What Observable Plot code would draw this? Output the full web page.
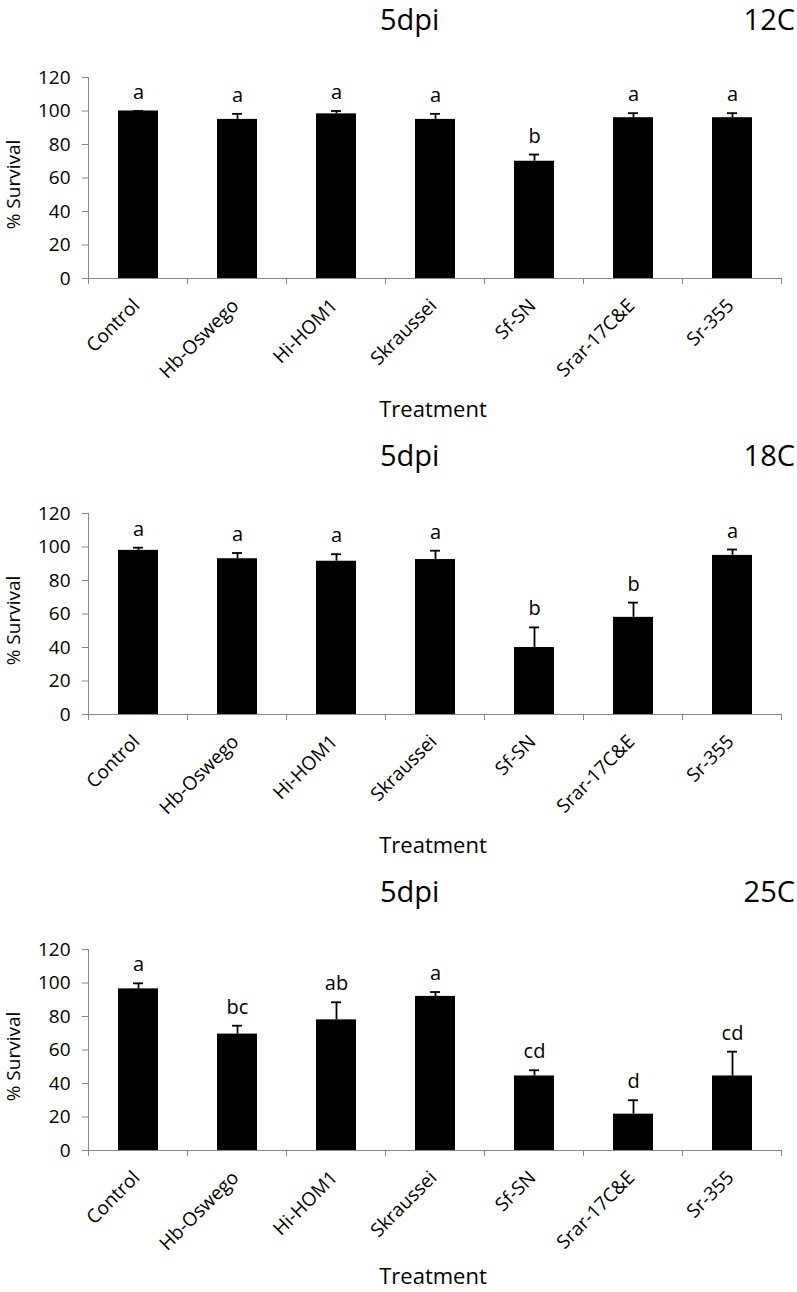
<!DOCTYPE html>
<html><head><meta charset="utf-8">
<script src="https://cdn.jsdelivr.net/npm/d3@7"></script>
<script src="https://cdn.jsdelivr.net/npm/@observablehq/plot@0.6"></script>
<style>
html,body{margin:0;padding:0;background:#fff;}
#wrap{position:relative;width:797px;height:1292px;overflow:hidden;font-family:"Open Sans",sans-serif;color:#000;}
.panel{position:absolute;left:0;width:797px;height:436px;}
.panel svg{position:absolute;left:0;top:0;}
.panel svg text{fill:#000;}
.t1{position:absolute;font-size:29px;line-height:29px;white-space:nowrap;top:4px;}
.xl{position:absolute;left:86px;width:694px;text-align:center;font-size:22px;line-height:22px;top:397px;}
.yl{position:absolute;width:200px;height:19px;text-align:center;font-size:19px;line-height:19px;top:175px;transform:rotate(-90deg);transform-origin:center;white-space:nowrap;}
</style>
</head><body>
<div id="wrap"></div>
<script>
const categories = ["Control","Hb-Oswego","Hi-HOM1","Skraussei","Sf-SN","Srar-17C&E","Sr-355"];
const dayLabel = "5dpi";
const tempLabels = ["12C","18C","25C"];
const yLabel = "% Survival";
const xLabel = "Treatment";
const yTicks = [0,20,40,60,80,100,120];

const survival12 = [100, 95, 98.3, 95, 70, 96, 96];
const error12    = [0, 3.3, 1.7, 3.3, 4, 2.7, 2.7];
const letters12  = ["a","a","a","a","b","a","a"];

const survival18 = [98, 93, 91.5, 92.5, 40, 58, 95];
const error18    = [1.6, 3.4, 4.2, 5.3, 12, 8.8, 3.5];
const letters18  = ["a","a","a","a","b","b","a"];

const survival25 = [96.5, 69.5, 78, 92, 44.5, 21.7, 44.5];
const error25    = [3.3, 5, 10.5, 2.6, 3.4, 8.3, 14.5];
const letters25  = ["a","bc","ab","a","cd","d","cd"];

const panels = [
  {temp: tempLabels[0], vals: survival12, errs: error12, sig: letters12},
  {temp: tempLabels[1], vals: survival18, errs: error18, sig: letters18},
  {temp: tempLabels[2], vals: survival25, errs: error25, sig: letters25}
];

const gray = "#868686";
const wrap = document.getElementById("wrap");

function boundaryTicks(index, scales) {
  const x = scales.x, y = scales.y;
  const step = x.step(), bw = x.bandwidth();
  const y0 = y(0);
  const g = d3.create("svg:g").attr("stroke", gray).attr("stroke-width", 1);
  const dom = x.domain();
  const pos = dom.map(c => x(c) + bw / 2 - step / 2);
  pos.push(x(dom[dom.length - 1]) + bw / 2 + step / 2);
  for (const p of pos) {
    g.append("line").attr("x1", p).attr("x2", p).attr("y1", y0).attr("y2", y0 + 6);
  }
  return g.node();
}

panels.forEach((p, i) => {
  const data = categories.map((c, j) => ({cat: c, val: p.vals[j], err: p.errs[j], sig: p.sig[j]}));
  const div = document.createElement("div");
  div.className = "panel";
  div.style.top = (i * 436) + "px";
  wrap.appendChild(div);

  const chart = Plot.plot({
    width: 797,
    height: 436,
    marginLeft: 88,
    marginRight: 15,
    marginTop: 77,
    marginBottom: 158,
    style: {fontFamily: "Open Sans, sans-serif", fontSize: "19px", color: gray, background: "transparent", overflow: "visible"},
    x: {domain: categories, paddingInner: 0.6, paddingOuter: 0.3, axis: null},
    y: {domain: [0, 120], ticks: yTicks, tickSize: 6, tickPadding: 12, line: true, label: null},
    marks: [
      Plot.barY(data, {x: "cat", y: "val", fill: "#000"}),
      Plot.ruleX(data, {x: "cat", y1: "val", y2: d => d.val + d.err, stroke: "#000", strokeWidth: 1.8}),
      Plot.tickY(data, {x: "cat", y: d => d.val + d.err, stroke: "#000", strokeWidth: 1.8, insetLeft: 15, insetRight: 15}),
      Plot.text(data, {x: "cat", y: d => d.val + d.err, text: "sig", lineAnchor: "bottom", dy: -12, fontSize: 20, fill: "#000"}),
      Plot.ruleY([0], {stroke: gray, strokeWidth: 1}),
      boundaryTicks,
      Plot.text(categories, {x: d => d, y: d => 0, text: d => d, rotate: -45, textAnchor: "end", dx: -2, dy: 24, fontSize: 19, fill: "#000"})
    ]
  });
  div.appendChild(chart);

  const t1 = document.createElement("div");
  t1.className = "t1"; t1.textContent = dayLabel;
  t1.style.left = "380px";
  div.appendChild(t1);
  const t2 = document.createElement("div");
  t2.className = "t1"; t2.textContent = p.temp;
  t2.style.right = "2px";
  div.appendChild(t2);
  const xl = document.createElement("div");
  xl.className = "xl"; xl.textContent = xLabel;
  if (i === panels.length - 1) xl.style.top = "392px";
  div.appendChild(xl);
  const yl = document.createElement("div");
  yl.className = "yl"; yl.textContent = yLabel;
  yl.style.left = "-87px";
  div.appendChild(yl);
});
</script>
</body></html>
